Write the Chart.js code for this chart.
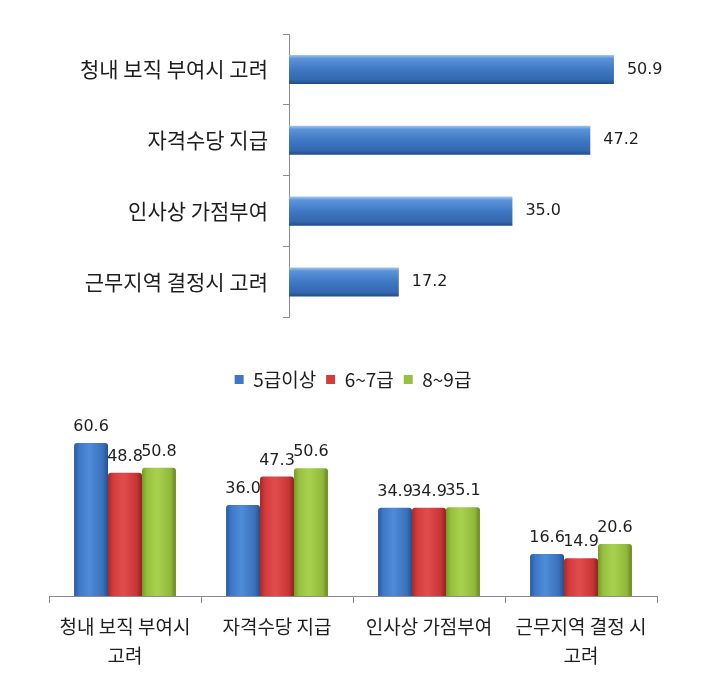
<!DOCTYPE html>
<html><head><meta charset="utf-8">
<script src="https://cdn.jsdelivr.net/npm/chart.js@4/dist/chart.umd.min.js"></script>
<style>
html,body{margin:0;padding:0;background:#fff;}
#wrap{position:relative;width:723px;height:678px;}
#c1{position:absolute;left:0;top:0;}
#c2{position:absolute;left:0;top:345px;}
</style></head><body>
<div id="wrap">
<canvas id="c1" width="723" height="345" style="width:723px;height:345px"></canvas>
<canvas id="c2" width="723" height="333" style="width:723px;height:333px"></canvas>
</div>
<script>
// ---- data ----
const topCategories = ['청내 보직 부여시 고려', '자격수당 지급', '인사상 가점부여', '근무지역 결정시 고려'];
const topValues = [50.9, 47.2, 35.0, 17.2];

const groupCategories = [['청내 보직 부여시', '고려'], '자격수당 지급', '인사상 가점부여', ['근무지역 결정 시', '고려']];
const seriesNames = ['5급이상', '6~7급', '8~9급'];
const grade5Up = [60.6, 36.0, 34.9, 16.6];
const grade67 = [48.8, 47.3, 34.9, 14.9];
const grade89 = [50.8, 50.6, 35.1, 20.6];

const KR = '"Noto Sans CJK KR", "Noto Sans", sans-serif';
const NUM = '"DejaVu Sans", sans-serif';

const stops = {
  blueH: [[0,'#a2c7f2'],[0.12,'#5c94d9'],[0.5,'#3f78c4'],[0.85,'#3468b0'],[1,'#1f4d8a']],
  blue:  [[0,'#2a5aa2'],[0.15,'#3d78c6'],[0.45,'#4e8bd9'],[0.85,'#3a70ba'],[1,'#23508c']],
  red:   [[0,'#a52626'],[0.15,'#d23c3c'],[0.45,'#e24c4c'],[0.85,'#c83535'],[1,'#8c1f1f']],
  green: [[0,'#769a28'],[0.15,'#98c040'],[0.45,'#aad14e'],[0.85,'#8fb73a'],[1,'#66861f']]
};

const gradientPlugin = {
  id: 'grad',
  beforeDatasetsDraw(chart) {
    const ctx = chart.ctx;
    const horiz = chart.options.indexAxis === 'y';
    chart.data.datasets.forEach((ds, di) => {
      const meta = chart.getDatasetMeta(di);
      const st = stops[ds.gradKey];
      meta.data.forEach(el => {
        let g;
        if (horiz) {
          g = ctx.createLinearGradient(0, el.y - el.height / 2, 0, el.y + el.height / 2);
        } else {
          g = ctx.createLinearGradient(el.x - el.width / 2, 0, el.x + el.width / 2, 0);
        }
        st.forEach(s => g.addColorStop(s[0], s[1]));
        const o = Object.assign({}, el.options);
        o.backgroundColor = g;
        el.options = o;
      });
    });
  }
};

const valueLabelPlugin = {
  id: 'vlabels',
  afterDatasetsDraw(chart) {
    const ctx = chart.ctx;
    const horiz = chart.options.indexAxis === 'y';
    ctx.save();
    ctx.font = '16px ' + NUM;
    ctx.fillStyle = '#1e1e1e';
    chart.data.datasets.forEach((ds, di) => {
      const meta = chart.getDatasetMeta(di);
      meta.data.forEach((el, i) => {
        const txt = ds.data[i].toFixed(1);
        if (horiz) {
          ctx.textAlign = 'left';
          ctx.textBaseline = 'middle';
          ctx.fillText(txt, el.x + 13, el.y);
        } else {
          ctx.textAlign = 'center';
          ctx.textBaseline = 'alphabetic';
          ctx.fillText(txt, el.x, el.y - 12);
        }
      });
    });
    ctx.restore();
  }
};

// ---- top horizontal chart ----
new Chart(document.getElementById('c1'), {
  type: 'bar',
  data: {
    labels: topCategories,
    datasets: [{ data: topValues, backgroundColor: '#3f78c4', gradKey: 'blueH',
      categoryPercentage: 1, barPercentage: 0.41, borderWidth: 0 }]
  },
  options: {
    indexAxis: 'y',
    responsive: false,
    animation: false,
    layout: { padding: { top: 34, bottom: 21, left: 0, right: 51 } },
    plugins: { legend: { display: false }, tooltip: { enabled: false } },
    scales: {
      x: { display: false, min: 0, max: 60 },
      y: {
        afterFit(scale) { scale.width = 289; },
        grid: { drawOnChartArea: false, tickLength: 6, color: '#8c8c8c', offset: true },
        border: { color: '#8c8c8c' },
        ticks: { padding: 15, color: '#1e1e1e', font: { family: KR, size: 21 } }
      }
    }
  },
  plugins: [gradientPlugin, valueLabelPlugin]
});

// ---- bottom grouped chart ----
new Chart(document.getElementById('c2'), {
  type: 'bar',
  data: {
    labels: groupCategories,
    datasets: [
      { label: seriesNames[0], data: grade5Up, backgroundColor: '#3d78c6', gradKey: 'blue' },
      { label: seriesNames[1], data: grade67, backgroundColor: '#d23c3c', gradKey: 'red' },
      { label: seriesNames[2], data: grade89, backgroundColor: '#98c040', gradKey: 'green' }
    ]
  },
  options: {
    responsive: false,
    animation: false,
    datasets: { bar: { categoryPercentage: 0.67, barPercentage: 1, borderWidth: 0,
      borderRadius: { topLeft: 3, topRight: 3 } } },
    layout: { padding: { top: 15, bottom: 0, left: 49, right: 66 } },
    plugins: {
      tooltip: { enabled: false },
      legend: {
        position: 'top',
        labels: { boxWidth: 9, boxHeight: 9, padding: 10, color: '#1e1e1e',
          font: { family: KR, size: 19 } }
      }
    },
    scales: {
      y: { display: false, min: 0, max: 78 },
      x: {
        afterFit(scale) { scale.height = 82; },
        grid: { drawOnChartArea: false, tickLength: 7, color: '#8c8c8c', offset: true },
        border: { color: '#8c8c8c' },
        ticks: { padding: 9, color: '#1e1e1e', maxRotation: 0, autoSkip: false,
          font: { family: KR, size: 19, lineHeight: 1.55 } }
      }
    }
  },
  plugins: [gradientPlugin, valueLabelPlugin]
});
</script>
</body></html>
